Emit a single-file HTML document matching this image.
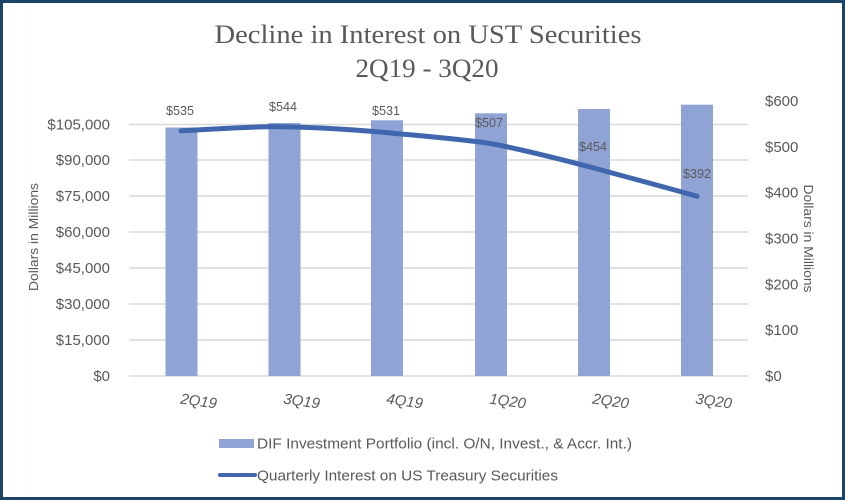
<!DOCTYPE html>
<html><head><meta charset="utf-8"><style>
html,body{margin:0;padding:0;background:#fff;}
svg{display:block;}
</style></head><body>
<svg width="845" height="500" viewBox="0 0 845 500" xmlns="http://www.w3.org/2000/svg">
<rect x="0" y="0" width="845" height="500" fill="#ffffff"/>
<rect x="1.5" y="1.5" width="842" height="497" fill="none" stroke="#1B4468" stroke-width="3"/>
<g font-family="Liberation Serif, serif" fill="#595959" font-size="26" text-anchor="middle">
<text x="428" y="43" textLength="427" lengthAdjust="spacingAndGlyphs">Decline in Interest on UST Securities</text>
<text x="427" y="77" textLength="143" lengthAdjust="spacingAndGlyphs">2Q19 - 3Q20</text>
</g>
<g stroke="#D9D9D9" stroke-width="1.5">
<line x1="129" x2="748" y1="376" y2="376"/>
<line x1="129" x2="748" y1="340" y2="340"/>
<line x1="129" x2="748" y1="304" y2="304"/>
<line x1="129" x2="748" y1="268" y2="268"/>
<line x1="129" x2="748" y1="232" y2="232"/>
<line x1="129" x2="748" y1="196" y2="196"/>
<line x1="129" x2="748" y1="160" y2="160"/>
<line x1="129" x2="748" y1="124.5" y2="124.5"/>
</g>
<g fill="#8FA3D5">
<rect x="165.5" y="127.5" width="32" height="248.5"/>
<rect x="268.5" y="123" width="32" height="253"/>
<rect x="371" y="120.3" width="32" height="255.7"/>
<rect x="475" y="113.3" width="32" height="262.7"/>
<rect x="578" y="109" width="32" height="267"/>
<rect x="681" y="104.7" width="32" height="271.3"/>
</g>
<path d="M181,130.8 C215,129.3 250,126.2 284,126.7 C318,127.3 352,129.5 387,132.6 C421,136 456,138.5 491,143.6 C525,150 560,159 594,168 C628,177.5 663,186.5 697,196.3" fill="none" stroke="#4066AE" stroke-width="5" stroke-linecap="round"/>
<g font-family="Liberation Sans, sans-serif" fill="#595959" font-size="13" text-anchor="middle">
<text x="180" y="115" textLength="28" lengthAdjust="spacingAndGlyphs">$535</text>
<text x="283" y="111" textLength="28" lengthAdjust="spacingAndGlyphs">$544</text>
<text x="386" y="115" textLength="28" lengthAdjust="spacingAndGlyphs">$531</text>
<text x="489" y="127" textLength="28" lengthAdjust="spacingAndGlyphs">$507</text>
<text x="593" y="151" textLength="28" lengthAdjust="spacingAndGlyphs">$454</text>
<text x="697" y="178" textLength="28" lengthAdjust="spacingAndGlyphs">$392</text>
</g>
<g font-family="Liberation Sans, sans-serif" fill="#595959" font-size="15" text-anchor="end">
<text x="110" y="381">$0</text>
<text x="110" y="345">$15,000</text>
<text x="110" y="309">$30,000</text>
<text x="110" y="273">$45,000</text>
<text x="110" y="237">$60,000</text>
<text x="110" y="201">$75,000</text>
<text x="110" y="165">$90,000</text>
<text x="110" y="129.5">$105,000</text>
</g>
<g font-family="Liberation Sans, sans-serif" fill="#595959" font-size="15" text-anchor="start">
<text x="765" y="381">$0</text>
<text x="765" y="335.2">$100</text>
<text x="765" y="289.3">$200</text>
<text x="765" y="243.5">$300</text>
<text x="765" y="197.7">$400</text>
<text x="765" y="151.8">$500</text>
<text x="765" y="106">$600</text>
</g>
<g font-family="Liberation Sans, sans-serif" fill="#595959" font-size="13" text-anchor="middle">
<text transform="translate(38,237) rotate(-90)" textLength="108" lengthAdjust="spacingAndGlyphs">Dollars in Millions</text>
<text transform="translate(804,238.5) rotate(90)" textLength="108" lengthAdjust="spacingAndGlyphs">Dollars in Millions</text>
</g>
<g font-family="Liberation Sans, sans-serif" fill="#595959" font-size="15" font-style="italic" text-anchor="middle">
<text transform="translate(198,406) rotate(8)">2Q19</text>
<text transform="translate(301,406) rotate(8)">3Q19</text>
<text transform="translate(404,406) rotate(8)">4Q19</text>
<text transform="translate(507,406) rotate(8)">1Q20</text>
<text transform="translate(610,406) rotate(8)">2Q20</text>
<text transform="translate(713,406) rotate(8)">3Q20</text>
</g>
<rect x="219" y="439" width="35" height="9" fill="#8FA3D5"/>
<line x1="220" y1="475" x2="255" y2="475" stroke="#4066AE" stroke-width="4" stroke-linecap="round"/>
<g font-family="Liberation Sans, sans-serif" fill="#595959" font-size="15">
<text x="257" y="448.5" textLength="375" lengthAdjust="spacingAndGlyphs">DIF Investment Portfolio (incl. O/N, Invest., &amp; Accr. Int.)</text>
<text x="257" y="480.5" textLength="301" lengthAdjust="spacingAndGlyphs">Quarterly Interest on US Treasury Securities</text>
</g>
</svg>
</body></html>
